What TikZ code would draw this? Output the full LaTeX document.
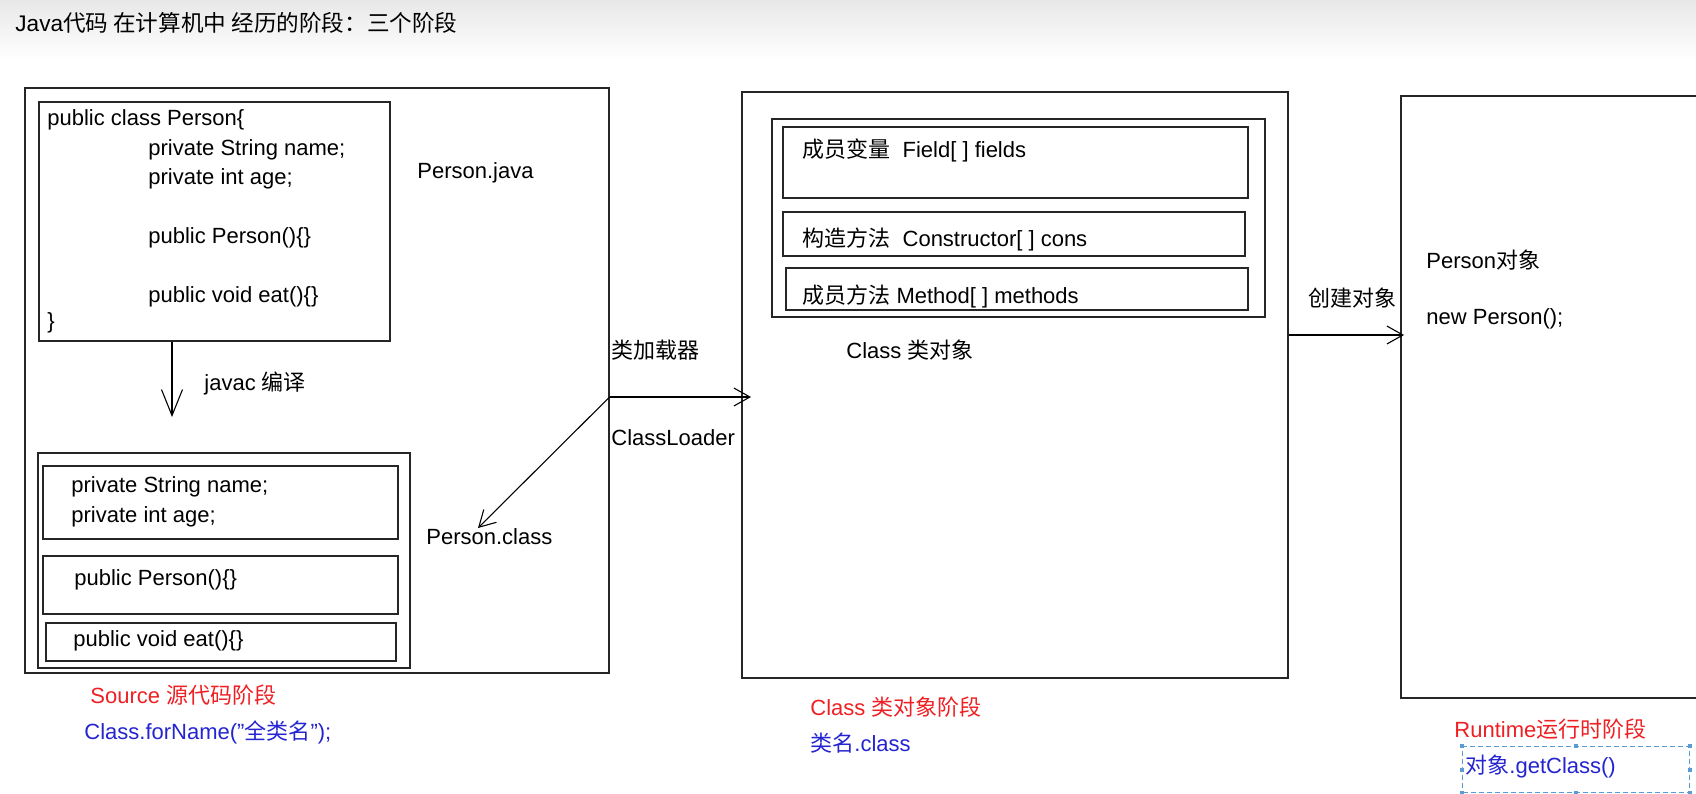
\documentclass[tikz,border=0pt]{standalone}
\usepackage{fontspec}
\setmainfont{Liberation Sans}
\newfontfamily\cjk{Noto Sans CJK SC}
\usetikzlibrary{arrows.meta}
\newcommand{\zhtxt}[1]{{\cjk #1}}
\definecolor{stagered}{RGB}{238,32,36}
\definecolor{callblue}{RGB}{36,36,208}
\definecolor{selblue}{RGB}{91,155,213}

\begin{document}
\begin{tikzpicture}
      [   x=0.5pt, y=-0.5pt,
          every node/.style={font=\fontsize{11}{13}\selectfont},
          box/.style={draw=black!85, line width=0.8pt, anchor=north west, inner sep=0pt},
          txt/.style={anchor=west, inner sep=0pt},
          stage/.style={txt, text=stagered},
          call/.style={txt, text=callblue},
          arr/.style={-{Straight Barb[length=8pt,width=9pt]}, line width=0.55pt},
          handle/.style={fill=selblue, minimum size=2pt, inner sep=0pt},
      ]
          \useasboundingbox (0,0) rectangle (1696,793);
          \clip (0,0) rectangle (1696,793);
          \shade[top color=black!9, bottom color=white] (0,0) rectangle (1696,60);
          \node[txt, font=\fontsize{11.3}{13}\selectfont] (title) at (15,23) {Java\zhtxt{代码 在计算机中 经历的阶段：三个阶段}};

          % Source
          \node[box, minimum width=292pt, minimum height=292.5pt] (source) at (24,87) {};
          \node[box, minimum width=175.5pt, minimum height=119.5pt] (javafile) at (38,101) {};
          \node[txt] (j1) at (47,120) {public class Person\{};
          \node[txt] (j2) at (148,150) {private String name;};
          \node[txt] (j3) at (148,179) {private int age;};
          \node[txt] (j4) at (148,238) {public Person()\{\}};
          \node[txt] (j5) at (148,297) {public void eat()\{\}};
          \node[txt] (j6) at (47,323) {\}};
          \node[txt] (javaname) at (417,173) {Person.java};
          \coordinate (compiled) at (172,417);
          \draw[arr, -{Straight Barb[length=13pt,width=10.5pt]}] (javafile.south -| compiled) -- (compiled);
          \node[txt] (javac) at (204,383) {javac \zhtxt{编译}};
          \node[box, minimum width=186pt, minimum height=107.5pt] (classfile) at (37,452) {};
          \node[box, minimum width=177.5pt, minimum height=36.5pt] (cf1) at (42,465) {};
          \node[box, minimum width=177.5pt, minimum height=29pt] (cf2) at (42,555) {};
          \node[box, minimum width=175pt, minimum height=19pt] (cf3) at (45,622) {};
          \node[txt] (c1) at (71,487) {private String name;};
          \node[txt] (c2) at (71,517) {private int age;};
          \node[txt] (c3) at (74,580) {public Person()\{\}};
          \node[txt] (c4) at (73,641) {public void eat()\{\}};
          \node[txt] (classname) at (426,537) {Person.class};
          \node[stage] (srcstage) at (90,695) {Source \zhtxt{源代码阶段}};
          \node[call] (forname) at (84,732) {Class.forName("\zhtxt{全类名}");};

          % Class
          \node[box, minimum width=273pt, minimum height=293pt] (classobj) at (741,91) {};
          \node[box, minimum width=246.5pt, minimum height=99pt] (members) at (771,118) {};
          \node[box, minimum width=232.5pt, minimum height=35.5pt] (fieldsbox) at (782,126) {};
          \node[box, minimum width=231pt, minimum height=22pt] (consbox) at (782,211) {};
          \node[box, minimum width=231pt, minimum height=21pt] (methbox) at (785,267) {};
          \node[txt] (fields) at (802,150) {\zhtxt{成员变量}\ \ Field[ ] fields};
          \node[txt] (cons) at (802,239) {\zhtxt{构造方法}\ \ Constructor[ ] cons};
          \node[txt] (meths) at (802,296) {\zhtxt{成员方法} Method[ ] methods};
          \node[txt] (classobjname) at (846,350) {Class \zhtxt{类对象}};
          \node[txt] (loader) at (611,350) {\zhtxt{类加载器}};
          \node[txt] (loadername) at (611,438) {ClassLoader};
          \coordinate (loaded) at (751,397);
          \coordinate (back) at (478,528);
          \draw[arr] (source.east |- loaded) -- (loaded);
          \draw[arr] (source.east |- loaded) -- (back);
          \node[stage] (clsstage) at (810,707) {Class \zhtxt{类对象阶段}};
          \node[call] (dotclass) at (810,743) {\zhtxt{类名}.class};

          % Runtime
          \node[box, minimum width=150pt, minimum height=301pt] (runtime) at (1400,95) {};
          \node[txt] (personobj) at (1426,260) {Person\zhtxt{对象}};
          \node[txt] (newperson) at (1426,319) {new Person();};
          \coordinate (created) at (1404,335);
          \draw[arr] (classobj.east |- created) -- (created);
          \node[txt] (create) at (1308,298) {\zhtxt{创建对象}};
          \node[stage] (rtstage) at (1454,729) {Runtime\zhtxt{运行时阶段}};
          \node[box, draw=selblue, dashed, dash pattern=on 2.5pt off 1.5pt, line width=0.5pt, minimum width=113.5pt, minimum height=23pt] (getclass) at (1462,746) {};
          \node[call] (getclasstxt) at (1465,766) {\zhtxt{对象}.getClass()};
          \node[handle] (h1) at (getclass.north west) {};
          \node[handle] (h2) at (getclass.north) {};
          \node[handle] (h3) at (getclass.north east) {};
          \node[handle] (h4) at (getclass.east) {};
          \node[handle] (h5) at (getclass.west) {};
          \node[handle] (h6) at (getclass.south west) {};
          \node[handle] (h7) at (getclass.south) {};
          \node[handle] (h8) at (getclass.south east) {};
    \end{tikzpicture}
\end{document}
